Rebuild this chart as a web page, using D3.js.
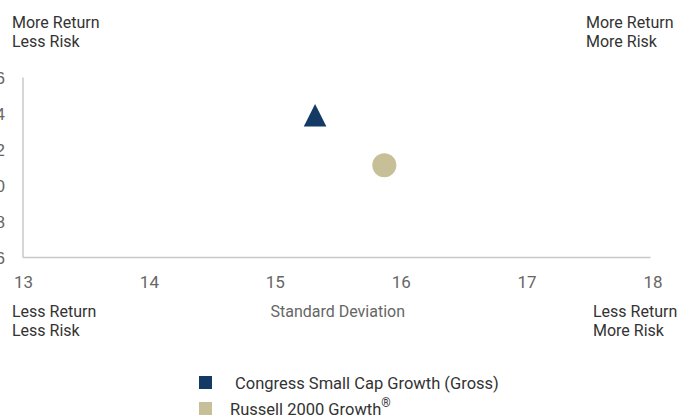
<!DOCTYPE html>
<html><head><meta charset="utf-8">
<script src="https://cdn.jsdelivr.net/npm/d3@7"></script>
<style>
body{margin:0;background:#fff;}
svg{display:block;font-family:Roboto, "Noto Sans", sans-serif;}
</style></head>
<body>
<svg id="chart" width="678" height="416"></svg>
<script>
const seriesNames = ["Congress Small Cap Growth (Gross)", "Russell 2000 Growth"];
const stdDev = [15.32, 15.87];
const returns = [13.9, 11.13];
const seriesColors = ["#123a65", "#c6bf97"];
const seriesShapes = ["triangle", "circle"];
const xTicks = [13, 14, 15, 16, 17, 18];
const yTicks = [6, 8, 10, 12, 14, 16];
const quadrantLabels = [["More Return", "Less Risk"], ["More Return", "More Risk"], ["Less Return", "Less Risk"], ["Less Return", "More Risk"]];
const xTitle = "Standard Deviation";

const svg = d3.select("#chart");
const x = d3.scaleLinear().domain([13, 18]).range([23, 652.5]);
const y = d3.scaleLinear().domain([6, 16]).range([257.5, 77.5]);

// axis lines
svg.append("line").attr("x1", x(13)).attr("x2", x(18) - 2).attr("y1", y(6)).attr("y2", y(6))
  .attr("stroke", "#c8c8c8").attr("stroke-width", 1.5);
svg.append("line").attr("x1", x(13)).attr("x2", x(13)).attr("y1", y(6)).attr("y2", y(16))
  .attr("stroke", "#c8c8c8").attr("stroke-width", 1.5);

// x tick labels
const xAxis = d3.axisBottom(x).tickValues(xTicks).tickSize(0).tickPadding(0).tickFormat(d3.format("d"));
const gx = svg.append("g").attr("transform", `translate(0,${y(6)})`).call(xAxis);
gx.select(".domain").remove();
gx.selectAll("text").attr("fill", "#666").attr("font-size", 17).attr("font-family", "Roboto").attr("dy", null).attr("y", 0)
  .attr("transform", "translate(0,30)");

// y tick labels (partly clipped at the left edge, as in the reference)
const yAxis = d3.axisLeft(y).tickValues(yTicks).tickSize(0).tickPadding(0).tickFormat(d3.format("d"));
const gy = svg.append("g").attr("transform", `translate(5,0)`).call(yAxis);
gy.select(".domain").remove();
gy.selectAll("text").attr("fill", "#666").attr("font-size", 17).attr("x", 0).attr("dy", "0.35em");

// x title
svg.append("text").attr("x", (x(13) + x(18)) / 2).attr("y", 317).attr("text-anchor", "middle")
  .attr("fill", "#666").attr("font-size", 16).text(xTitle);

// quadrant labels
const qpos = [[12, 28], [586, 28], [12, 317], [593, 317]];
quadrantLabels.forEach((lines, i) => {
  const t = svg.append("text").attr("x", qpos[i][0]).attr("y", qpos[i][1])
    .attr("fill", "#333").attr("font-size", 16);
  lines.forEach((l, j) => t.append("tspan").attr("x", qpos[i][0]).attr("dy", j === 0 ? 0 : 19).text(l));
});

// points
const pts = svg.append("g");
stdDev.forEach((sd, i) => {
  const cx = x(sd), cy = y(returns[i]);
  if (seriesShapes[i] === "triangle") {
    const h = 22.6, w = 22.6;
    pts.append("path").attr("d", `M${cx},${cy - h / 2}L${cx + w / 2},${cy + h / 2}L${cx - w / 2},${cy + h / 2}Z`)
      .attr("fill", seriesColors[i]);
  } else {
    pts.append("circle").attr("cx", cx).attr("cy", cy).attr("r", 12).attr("fill", seriesColors[i]);
  }
});

// legend
const legend = svg.append("g");
const legY = [383, 409];
const legTextX = [235, 230];
seriesNames.forEach((n, i) => {
  legend.append("rect").attr("x", 199).attr("y", legY[i] - 7).attr("width", 13).attr("height", 13).attr("fill", seriesColors[i]);
  const t = legend.append("text").attr("x", legTextX[i]).attr("y", legY[i] + 6).attr("fill", "#333").attr("font-size", 16.5).text(n);
  if (i === 1) t.append("tspan").attr("font-size", 12).attr("dy", -8).text("®");
});
</script>
</body></html>
